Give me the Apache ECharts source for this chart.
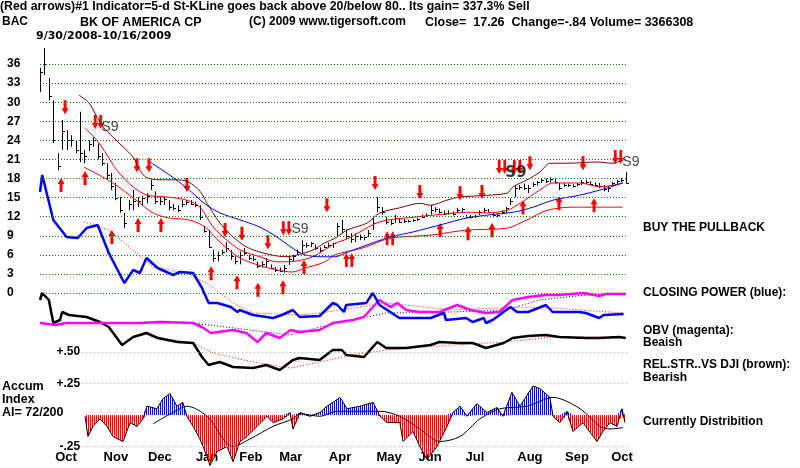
<!DOCTYPE html>
<html>
<head>
<meta charset="utf-8">
<script src="https://cdn.jsdelivr.net/npm/echarts@6/dist/echarts.min.js"></script>
<style>
html, body { margin: 0; padding: 0; background: #fff; }
#main { width: 800px; height: 468px; }
</style>
</head>
<body>
<div id="main"></div>
<script>
// price bars, one every 2nd trading day from 9/30/2008 (day = index * 2)
var barHigh = [35.4, 38.5, 33.8, 30.3, 22.0, 27.2, 25.6, 24.8, 24.0, 28.5,
    22.5, 24.0, 24.5, 23.5, 22.0, 20.4, 18.9, 17.3, 15.1, 12.6,
    14.6, 16.2, 15.1, 15.3, 15.7, 17.8, 16.0, 15.1, 15.1, 14.6,
    14.0, 13.8, 14.6, 14.6, 14.6, 14.4, 13.8, 10.5, 9.9, 6.8,
    6.5, 6.8, 8.0, 6.8, 5.8, 6.5, 7.1, 6.0, 5.8, 4.9,
    5.0, 5.5, 4.5, 4.1, 4.0, 4.4, 5.7, 6.0, 6.8, 8.3,
    7.9, 8.0, 7.6, 7.2, 7.5, 7.9, 7.9, 11.0, 11.5, 10.0,
    9.4, 9.4, 9.2, 9.1, 9.9, 11.8, 15.1, 13.5, 12.0, 11.5,
    12.3, 11.8, 11.6, 11.5, 11.6, 11.8, 12.3, 12.5, 13.8, 13.5,
    13.3, 13.0, 13.0, 12.8, 13.4, 13.4, 12.3, 12.3, 12.3, 13.0,
    13.4, 13.2, 12.6, 12.5, 13.0, 13.5, 14.9, 17.0, 17.0, 17.2,
    17.0, 17.4, 17.6, 18.1, 18.0, 18.2, 18.0, 17.3, 17.3, 17.2,
    17.1, 17.3, 17.8, 17.8, 17.6, 17.4, 17.3, 17.0, 16.8, 17.5,
    17.8, 18.1, 19.0];
var barLow = [31.6, 34.3, 30.3, 23.6, 19.3, 22.5, 22.5, 23.0, 22.0, 20.6,
    20.4, 22.3, 23.0, 21.0, 20.0, 17.8, 16.2, 14.6, 12.6, 10.2,
    13.0, 13.0, 13.5, 13.8, 14.1, 16.2, 14.0, 13.8, 13.9, 13.0,
    13.0, 12.7, 13.5, 13.8, 13.8, 13.5, 11.5, 9.5, 7.1, 4.9,
    5.0, 6.0, 6.4, 5.2, 4.5, 4.5, 6.0, 5.2, 5.0, 3.9,
    4.0, 4.1, 3.8, 3.3, 3.3, 3.2, 4.4, 5.0, 6.0, 6.3,
    7.1, 7.2, 6.8, 6.4, 7.1, 7.1, 7.1, 8.8, 9.4, 8.5,
    7.9, 8.0, 8.3, 8.3, 8.8, 9.9, 12.7, 12.3, 10.8, 10.7,
    11.0, 11.0, 11.0, 11.1, 11.2, 11.3, 11.8, 12.0, 12.3, 12.7,
    12.5, 12.3, 12.3, 12.2, 12.6, 12.6, 11.8, 11.7, 11.8, 12.3,
    12.6, 12.6, 11.9, 11.9, 12.4, 12.6, 13.8, 15.1, 16.2, 16.2,
    15.7, 16.7, 16.9, 17.3, 17.3, 17.4, 17.2, 16.2, 16.7, 16.7,
    16.6, 16.8, 17.0, 17.1, 17.0, 16.8, 16.5, 16.0, 15.9, 16.8,
    17.0, 17.4, 17.2];
var barClose = [34.8, 36.0, 31.0, 24.0, 20.0, 25.5, 24.0, 24.0, 22.5, 22.0,
    21.5, 23.5, 24.0, 21.5, 20.5, 18.5, 16.8, 15.0, 13.0, 11.0,
    14.0, 14.5, 14.5, 15.0, 15.2, 17.0, 14.5, 14.5, 14.8, 13.5,
    13.3, 13.0, 14.0, 14.3, 14.0, 13.8, 12.0, 9.8, 7.3, 5.5,
    6.0, 6.4, 7.0, 5.8, 5.0, 6.0, 6.3, 5.5, 5.3, 4.3,
    4.5, 5.0, 4.0, 3.6, 3.5, 3.9, 5.3, 5.8, 6.5, 7.5,
    7.6, 7.8, 7.0, 6.8, 7.3, 7.6, 7.8, 10.5, 10.0, 9.0,
    8.5, 9.0, 8.8, 8.8, 9.5, 11.0, 13.5, 12.8, 11.2, 11.0,
    11.8, 11.2, 11.3, 11.3, 11.5, 11.6, 12.0, 12.3, 13.0, 13.2,
    12.8, 12.5, 12.6, 12.4, 13.0, 13.2, 12.0, 11.9, 12.1, 12.8,
    13.0, 12.8, 12.2, 12.3, 12.8, 13.3, 14.5, 16.5, 16.6, 16.5,
    16.5, 17.2, 17.4, 17.8, 17.6, 18.0, 17.5, 16.5, 17.0, 17.0,
    16.9, 17.1, 17.5, 17.4, 17.2, 17.0, 16.9, 16.3, 16.5, 17.3,
    17.6, 17.8, 17.3];

// bands and moving average: [day, price]
var upperBand = [[17.6, 31.1], [22.1, 29.9], [25.2, 28.0], [28.4, 26.1], [32.9, 24.5], [37.4, 23.0],
    [41.9, 21.4], [45.1, 19.3], [47.8, 18.2], [53.6, 17.8], [61.3, 17.8], [66.7, 17.5], [72.1, 16.0],
    [75.3, 14.1], [81.1, 11.0], [87, 8.8], [93.3, 7.2], [100.5, 6.3], [110.4, 5.7], [114.9, 5.9],
    [122.6, 6.7], [128.4, 7.9], [132.9, 8.6], [138.4, 9.9], [147.4, 11.0], [153.2, 12.6], [162.2, 13.4],
    [171.2, 14.1], [175.8, 13.8], [183.4, 14.6], [189.3, 15.1], [198.3, 15.3], [210.5, 15.7],
    [213.2, 16.7], [219.5, 17.8], [225.3, 19.0], [229.8, 20.4], [237.5, 20.4], [251, 20.6],
    [258.2, 20.4], [262.7, 20.9]];
var innerBand = [[20.3, 25.9], [25.7, 24.0], [30.2, 21.7], [34.7, 19.3], [41.9, 16.7], [48.2, 15.4],
    [57.2, 15.1], [66.2, 14.6], [72.1, 13.5], [78, 10.4], [84.3, 8.3], [90.1, 6.8], [99.1, 5.7],
    [106.8, 4.9], [114.9, 5.0], [123, 5.7], [132.9, 7.8], [138.4, 8.5], [153.2, 11.2], [168.1, 11.9],
    [178.9, 12.3], [192.4, 12.7], [201.4, 12.6], [210.5, 13.0], [216.3, 14.1], [225.3, 16.2],
    [231.2, 17.3], [243.4, 17.3], [252.4, 16.7], [262.7, 17.3]];
var lowerBand = [[19.8, 19.8], [32.9, 17.3], [43.3, 14.6], [50.9, 12.6], [58.1, 11.8], [67.1, 11.5],
    [74.4, 10.4], [80.2, 8.3], [89.2, 5.7], [98.2, 4.4], [107.3, 3.6], [113.6, 3.3], [119.4, 3.9],
    [128.4, 4.9], [132.9, 6.0], [145.6, 7.1], [157.7, 8.6], [175.8, 9.1], [192.4, 9.9], [210.5, 10.2],
    [219.5, 11.5], [228.5, 13.0], [240.2, 13.5], [262.7, 13.5]];
var longMA = [[49.6, 20.6], [58.6, 18.5], [66.2, 16.5], [74.4, 14.0], [81.1, 12.6], [90.1, 11.5],
    [98.2, 10.5], [104.6, 9.3], [110.4, 7.9], [114.9, 6.8], [119.4, 6.0], [126.2, 5.7], [132.9, 5.7],
    [138.4, 6.4], [150.1, 7.9], [157.7, 8.8], [168.1, 9.6], [180.3, 10.7], [192.4, 11.8], [202.8, 12.3],
    [213.2, 12.7], [222.2, 13.5], [231.2, 14.6], [243.4, 15.4], [252.4, 16.2], [262.7, 17.3]];

// signals: [day, price, double arrow]
var downArrows = [[11.3, 29.2, 0], [26.1, 26.9, 1], [43.7, 20.1, 0], [49.1, 20.1, 0], [66.2, 17.0, 0],
    [83.4, 9.9, 0], [91.0, 9.3, 0], [102.7, 8.0, 0], [110.9, 10.2, 1], [129.3, 13.8, 0], [151.0, 17.3, 0],
    [171.2, 15.9, 0], [189.3, 15.7, 0], [199.2, 15.9, 0], [208.2, 19.8, 1], [215.0, 19.8, 1],
    [220.8, 20.4, 0], [244.7, 20.4, 0], [260.5, 21.4, 1]];
var upArrows = [[9.5, 17.0, 0], [20.3, 18.1, 0], [32.4, 8.8, 0], [44.2, 10.7, 0], [54.5, 10.7, 0],
    [77.1, 3.1, 0], [88.8, 1.7, 0], [98.2, 0.5, 0], [109.5, 0.9, 0], [119.0, 4.1, 0], [139.3, 5.2, 1],
    [157.7, 8.6, 1], [180.3, 9.9, 0], [192.9, 9.4, 0], [203.7, 9.9, 0], [217.7, 13.5, 0],
    [233.9, 14.1, 0], [249.7, 13.8, 0]];
var s9Marks = [[31.5, 26.1], [117.2, 10.1], [214.5, 18.9], [266.3, 20.6]];

// indicators (own arbitrary scale 0..110): [day, value]
var closingPower = [[0, 94], [1, 102.5], [6, 80], [12, 71.5], [17, 71], [21, 76], [26, 77.5], [31, 63.5],
    [38, 48.5], [42, 55], [45, 53.5], [48, 61], [53, 56], [60, 52.5], [63, 54], [69, 53.5], [73, 46],
    [76, 38.5], [80, 38.5], [86, 36.5], [89, 34], [90, 35], [96, 32.5], [105, 31], [109, 32.5], [114, 35],
    [117, 31.5], [126, 32], [132, 38.5], [134, 37.5], [137, 34], [138, 37.5], [147, 38.5], [150, 43.5],
    [153, 37.5], [162, 31], [176, 31], [182, 33.5], [183, 30], [192, 31], [195, 29], [200, 31], [201, 28.5],
    [204, 30], [212, 36.5], [215, 34], [220, 34], [228, 37.5], [231, 34], [243, 34], [246, 33.5],
    [252, 31], [254, 32.5], [263, 33]];
var obv = [[0, 28.5], [7, 27.5], [12, 28.5], [27, 28.5], [45, 28.5], [54, 29], [69, 28.5], [73, 26.5],
    [77, 23.5], [87, 25], [93, 23.5], [98, 19], [102, 23.5], [108, 21], [113, 25], [117, 24], [126, 25],
    [132, 28.5], [141, 30], [146, 31.5], [150, 36.5], [153, 40], [158, 36.5], [161, 38.5], [165, 35],
    [171, 34], [180, 34], [188, 37.5], [194, 35], [201, 33.5], [207, 34], [213, 40], [220, 41.5],
    [228, 42.5], [234, 42.5], [245, 43.5], [252, 42], [255, 43], [264, 43]];
var relStrength = [[0, 40], [1, 43.5], [4, 40], [6, 28.5], [9, 30], [10, 34], [13, 32.5], [21, 31.5],
    [27, 29], [31, 26.5], [37, 17.5], [42, 21.5], [48, 23.5], [53, 21], [62, 19], [69, 18.5], [73, 11.5],
    [76, 7.5], [81, 9], [87, 6.5], [96, 6], [102, 7.5], [108, 5], [114, 10], [117, 11], [126, 10],
    [132, 15], [136, 15], [138, 12.5], [146, 11.5], [152, 19], [156, 16], [165, 16], [176, 17.5],
    [180, 19], [189, 18.5], [195, 18.5], [201, 16], [209, 18.5], [213, 21], [220, 22], [228, 22.5],
    [234, 21.5], [246, 21], [252, 21], [261, 21.5], [264, 21]];
var cpAverage = [[20, 79], [31, 75], [51, 56.5], [66, 53.5], [75, 48.5], [87, 38.5], [96, 33.5],
    [117, 32.5], [126, 33.5], [156, 38.5], [186, 35], [216, 36.5], [231, 36], [263, 33.5]];
var obvAverage = [[69, 28.5], [113, 22.5], [126, 26.5], [156, 33.5], [186, 34], [210, 35], [225, 40],
    [246, 42.5], [263, 43]];
var rsAverage = [[53, 21.5], [69, 18.5], [78, 13.5], [96, 9], [113, 6], [126, 9], [141, 12.5], [156, 15],
    [186, 17.5], [210, 19], [231, 21.5], [263, 21.5]];

// accumulation index: [day, value]
var accumIndex = [[20.3, -0.01], [21.6, -0.17], [23.9, -0.09], [27, -0.03], [30.2, -0.09], [32.9, -0.17],
    [37.4, -0.21], [40.6, -0.06], [43.7, -0.09], [46.4, -0.03], [48.2, 0.07], [52.7, 0.05], [55.4, 0.13],
    [58.6, 0.17], [61.7, 0.07], [64.4, 0.10], [66.2, -0.01], [69, -0.09], [72.1, -0.19], [75.3, -0.33],
    [76.6, -0.40], [79.8, -0.29], [84.3, -0.25], [87, -0.37], [90.1, -0.21], [93.3, -0.17], [97.8, -0.09],
    [102.3, -0.01], [105, -0.06], [109.5, -0.03], [112.7, 0.02], [114, -0.11], [117.2, 0.02],
    [121.7, -0.01], [126.2, 0.02], [129.3, 0.07], [132, 0.10], [135.2, 0.14], [138.4, 0.05], [144.2, 0.07],
    [150.1, 0.10], [153.2, -0.01], [156.4, -0.06], [162.2, -0.06], [163.6, -0.21], [168.1, -0.13],
    [171.2, -0.25], [174.4, -0.35], [178.9, -0.25], [183.4, -0.09], [186.1, 0.02], [189.3, 0.07],
    [192.4, -0.01], [196.9, 0.09], [201.4, 0.02], [205.9, 0.06], [208.6, -0.01], [212.7, 0.18],
    [216.3, 0.07], [222.2, 0.23], [225.3, 0.21], [229.8, 0.14], [231.2, -0.01], [234.3, -0.06],
    [237.5, 0.03], [240.2, -0.13], [244.7, -0.06], [251, -0.21], [253.7, -0.13], [256.9, -0.06],
    [260, -0.09], [262.3, 0.05], [263.6, -0.06]];
var accumAverage = [[50.9, -0.07], [59.9, 0.02], [66.2, 0.07], [75.3, -0.01], [87, -0.25], [94.6, -0.19],
    [105, -0.09], [114, -0.03], [117.2, 0.01], [126.2, -0.01], [133.8, 0.03], [153.2, 0.03], [162.2, -0.01],
    [171.2, -0.11], [180.3, -0.21], [189.3, -0.17], [198.3, -0.03], [207.3, 0.05], [219.5, 0.07],
    [231.2, 0.14], [243.4, 0.05], [252.4, -0.09], [256.9, -0.11], [262.7, -0.10]];

var gridValues = [0, 3, 6, 9, 12, 15, 18, 21, 24, 27, 30, 33, 36];
var accumTicks = [0.5, 0.25, -0.25];
var monthNames = ['Oct', 'Nov', 'Dec', 'Jan', 'Feb', 'Mar', 'Apr', 'May', 'Jun', 'Jul', 'Aug', 'Sep', 'Oct'];
var monthPos = [11.7, 34.2, 54, 75.3, 95, 113, 135.2, 157.3, 175.8, 196, 220.8, 242, 262.3];

var FONT = 'Liberation Sans';
var DAYS = 265, LEFT = 40, RIGHT = 172;
var plotW = 800 - LEFT - RIGHT;
var accumStart = 19;

function stripes(color) {
    var c = document.createElement('canvas');
    c.width = 2;
    c.height = 4;
    var ctx = c.getContext('2d');
    ctx.fillStyle = color;
    ctx.fillRect(0, 0, 1, 4);
    return c;
}

var arrowUp = 'path://M3.5,0 L7,6 L5,6 L5,14 L2,14 L2,6 L0,6 Z';
var arrowUp2 = 'path://M3.5,0 L7,6 L5,6 L5,14 L2,14 L2,6 L0,6 Z M9.5,0 L13,6 L11,6 L11,14 L8,14 L8,6 L6,6 Z';
var arrowDown = 'path://M2,0 L5,0 L5,8 L7,8 L3.5,14 L0,8 L2,8 Z';
var arrowDown2 = 'path://M2,0 L5,0 L5,8 L7,8 L3.5,14 L0,8 L2,8 Z M8,0 L11,0 L11,8 L13,8 L9.5,14 L6,8 L8,8 Z';

function renderBar(params, api) {
    var d = api.value(0);
    var lo = api.coord([d, api.value(1)]);
    var hi = api.coord([d, api.value(2)]);
    var cl = api.coord([d, api.value(3)]);
    var x = Math.round(lo[0]) + 0.5;
    var cy = Math.round(cl[1]) + 0.5;
    return {
        type: 'group',
        children: [
            { type: 'line', shape: { x1: x, y1: lo[1], x2: x, y2: hi[1] }, style: { stroke: '#000', lineWidth: 1 } },
            { type: 'line', shape: { x1: x, y1: cy, x2: x + 2.5, y2: cy }, style: { stroke: '#000', lineWidth: 1 } }
        ]
    };
}

function lineSeries(data, color, width, xi, extra) {
    var s = {
        type: 'line', data: data, xAxisIndex: xi, yAxisIndex: xi,
        symbol: 'none', silent: true,
        lineStyle: { color: color, width: width }
    };
    for (var k in extra) s[k] = extra[k];
    return s;
}

function text(str, left, top, size, family) {
    return {
        type: 'text', left: left, top: top,
        style: { text: str, fill: '#000', font: 'bold ' + (size || 12) + 'px "' + (family || FONT) + '"' }
    };
}

var myChart = echarts.init(document.getElementById('main'));

var option = {
    animation: false,
    backgroundColor: '#fff',
    grid: [
        { left: LEFT, right: RIGHT, top: 45, height: 248, outerBoundsMode: 'none' },
        { left: LEFT, right: RIGHT, top: 160, height: 220, outerBoundsMode: 'none' },
        { left: LEFT + accumStart * plotW / DAYS, right: RIGHT, top: 352, height: 116, outerBoundsMode: 'none' }
    ],
    xAxis: [
        { type: 'value', gridIndex: 0, min: 0, max: DAYS, show: false },
        {
            type: 'value', gridIndex: 1, min: 0, max: DAYS, position: 'bottom', offset: 69,
            axisLine: { show: false }, axisTick: { show: false }, splitLine: { show: false },
            axisLabel: {
                customValues: monthPos, margin: 2, color: '#000', fontSize: 13, fontWeight: 'bold', fontFamily: FONT,
                formatter: function (v) { return monthNames[monthPos.indexOf(v)]; }
            }
        },
        { type: 'value', gridIndex: 2, min: accumStart, max: DAYS, show: false }
    ],
    yAxis: [
        {
            type: 'value', gridIndex: 0, min: 0, max: 39,
            axisLine: { show: false }, axisTick: { show: false }, splitLine: { show: false },
            axisLabel: {
                customValues: gridValues, align: 'left', margin: 33,
                color: '#000', fontSize: 12, fontWeight: 'bold', fontFamily: FONT
            }
        },
        { type: 'value', gridIndex: 1, min: 0, max: 110, show: false },
        {
            type: 'value', gridIndex: 2, min: -0.42, max: 0.5,
            axisLine: { show: false }, axisTick: { show: false }, splitLine: { show: false },
            axisLabel: {
                customValues: accumTicks, margin: 2, color: '#000', fontSize: 12, fontWeight: 'bold', fontFamily: FONT,
                formatter: function (v) { return (v > 0 ? '+' : '-') + Math.abs(v).toFixed(2).slice(1); }
            }
        }
    ],
    series: [
        // price panel
        lineSeries(upperBand, '#800000', 1, 0, {
            smooth: 0.3,
            markLine: {
                silent: true, symbol: ['none', 'none'], label: { show: false },
                lineStyle: { color: '#008000', width: 1, type: [1, 2] },
                data: gridValues.map(function (v) { return { yAxis: v }; })
            }
        }),
        lineSeries(innerBand, '#ff0000', 1, 0, { smooth: 0.3 }),
        lineSeries(lowerBand, '#ff0000', 1, 0, { smooth: 0.3 }),
        lineSeries(longMA, '#0000ff', 1, 0, { smooth: 0.3 }),
        {
            type: 'custom', xAxisIndex: 0, yAxisIndex: 0, silent: true,
            renderItem: renderBar,
            encode: { x: 0, y: [1, 2, 3] },
            data: barHigh.map(function (h, i) { return [i * 2, barLow[i], h, barClose[i]]; })
        },
        {
            type: 'scatter', xAxisIndex: 0, yAxisIndex: 0, silent: true, clip: false,
            data: upArrows,
            symbol: function (v) { return v[2] ? arrowUp2 : arrowUp; },
            symbolSize: function (v) { return v[2] ? [12, 14] : [7, 14]; },
            itemStyle: { color: '#ff0000', opacity: 1 }
        },
        {
            type: 'scatter', xAxisIndex: 0, yAxisIndex: 0, silent: true, clip: false,
            data: downArrows,
            symbol: function (v) { return v[2] ? arrowDown2 : arrowDown; },
            symbolSize: function (v) { return v[2] ? [12, 14] : [7, 14]; },
            itemStyle: { color: '#ff0000', opacity: 1 }
        },
        {
            type: 'scatter', xAxisIndex: 0, yAxisIndex: 0, silent: true, clip: false,
            data: s9Marks.map(function (p, i) {
                return {
                    value: p,
                    label: i === 2 ? { fontSize: 15, fontWeight: 900, fontFamily: 'DejaVu Sans', color: '#000' } : {}
                };
            }),
            symbolSize: 1,
            itemStyle: { color: 'transparent' },
            label: {
                show: true, position: 'inside', formatter: 'S9',
                color: '#111', fontSize: 14, fontFamily: FONT
            }
        },
        // indicator panel
        lineSeries(cpAverage, '#ff0000', 1, 1, { lineStyle: { color: '#ff0000', width: 1, type: [1, 2] } }),
        lineSeries(obvAverage, '#000', 1, 1, { lineStyle: { color: '#000', width: 1, type: [1, 2] } }),
        lineSeries(rsAverage, '#ff0000', 1, 1, { lineStyle: { color: '#ff0000', width: 1, type: [1, 2] } }),
        lineSeries(relStrength, '#000', 2.5, 1),
        lineSeries(obv, '#ff00ff', 2.5, 1),
        lineSeries(closingPower, '#0000ff', 2.5, 1),
        // accumulation index
        lineSeries(accumIndex.map(function (p) { return [p[0], Math.max(p[1], 0)]; }), '#0000ff', 0, 2, {
            lineStyle: { opacity: 0 },
            areaStyle: { color: { image: stripes('#0000ff'), repeat: 'repeat' }, opacity: 1 },
            markLine: {
                silent: true, symbol: ['none', 'none'], label: { show: false },
                lineStyle: { color: '#999', width: 1, type: [1, 3] },
                data: accumTicks.map(function (v) { return { yAxis: v }; })
            }
        }),
        lineSeries(accumIndex.map(function (p) { return [p[0], Math.min(p[1], 0)]; }), '#ff0000', 0, 2, {
            lineStyle: { opacity: 0 },
            areaStyle: { color: { image: stripes('#ff0000'), repeat: 'repeat' }, opacity: 1 }
        }),
        lineSeries(accumIndex, '#000', 1, 2),
        lineSeries(accumAverage, '#000', 1, 2, { smooth: 0.3 })
    ],
    graphic: [
        text('(Red arrows)#1 Indicator=5-d St-KLine goes back above 20/below 80.. Its gain= 337.3% Sell', 0, 1, 12.3),
        text('BAC', 2, 16),
        text('BK OF AMERICA CP', 80, 16, 12.5),
        text('(C) 2009 www.tigersoft.com', 249, 16),
        text('Close=  17.26  Change=-.84 Volume= 3366308', 425, 16, 12.5),
        text('9/30/2008-10/16/2009', 36, 31, 11, 'DejaVu Sans'),
        text('BUY THE PULLBACK', 643, 222),
        text('CLOSING POWER (blue):', 643, 287),
        text('OBV (magenta):', 643, 325),
        text('Beaish', 643, 337),
        text('REL.STR..VS DJI (brown):', 643, 359),
        text('Bearish', 643, 372),
        text('Currently Distribition', 643, 416),
        text('Accum', 2, 380, 12.5),
        text('Index', 2, 393, 12.5),
        text('AI= 72/200', 2, 406, 12.5)
    ]
};

myChart.setOption(option);
</script>
</body>
</html>
